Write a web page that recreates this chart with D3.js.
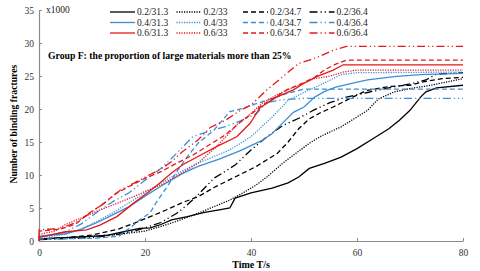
<!DOCTYPE html>
<html>
<head>
<meta charset="utf-8">
<script src="https://d3js.org/d3.v7.min.js"></script>
<style>
  body { margin: 0; background: #fff; }
  text { font-family: "Liberation Serif", "Times New Roman", serif; }
</style>
</head>
<body>
<svg id="chart"></svg>
<script>
// series labels, in legend order (row = ratio, column = value)
var names = ["0.2/31.3", "0.2/33", "0.2/34.7", "0.2/36.4",
             "0.4/31.3", "0.4/33", "0.4/34.7", "0.4/36.4",
             "0.6/31.3", "0.6/33", "0.6/34.7", "0.6/36.4"];

// [time s, binding fractures x1000]
var b_313 = [[0,0.3],[5,0.5],[10,0.7],[13,0.9],[16,1.4],[19,1.9],[21,2.0],[23,2.5],[25,3.2],[28,3.7],[31,4.3],[34,4.7],[36,5.0],[37,6.5],[40,7.3],[44,8.0],[47,8.8],[49,9.7],[51,11.0],[54,11.8],[57,12.7],[60,14.0],[63,15.5],[66,17.0],[68,18.3],[70,19.8],[72,21.8],[73,22.6],[75,23.2],[80,23.6]];
var b_33 = [[0,0.3],[5,0.5],[10,0.7],[15,1.0],[20,1.5],[23,2.2],[26,3.0],[30,4.2],[33,5.2],[36,6.2],[38.5,7.3],[41,8.5],[43,9.7],[46,11.8],[49,13.6],[51,14.8],[53,15.8],[57,17.3],[59,18.3],[62,19.8],[64,21.5],[67,22.6],[70,23.1],[74,23.6],[77,24.1],[80,24.6]];
var b_347 = [[0,0.3],[5,0.5],[10,0.9],[15,1.8],[18,2.7],[21,3.7],[24,4.7],[27,5.8],[30,6.7],[33,8.1],[37,9.7],[41,11.3],[45,13.3],[47,15.0],[49,17.0],[51,18.5],[53,19.4],[55.5,20.3],[58.7,21.6],[61.8,22.8],[66,23.4],[70,23.6],[73,24.2],[76,24.6],[80,24.8]];
var b_364 = [[0,0.2],[10,0.5],[15,1.0],[18,1.5],[20,2.0],[23,2.8],[26,4.2],[28,5.5],[30,7.0],[33,9.5],[37,11.5],[40,13.8],[43,15.8],[46,17.5],[49,18.6],[52,19.9],[55,21.0],[58,21.8],[62,22.5],[66,23.2],[70,23.8],[73,24.4],[75,25.3],[80,25.5]];
var u_313 = [[0,0.7],[5,1.1],[8,1.8],[11,2.8],[14,4.0],[17,5.2],[20,6.8],[23,8.3],[27,10.2],[30,11.3],[34,12.4],[38,13.7],[42,15.2],[44,16.3],[46,17.9],[48,19.5],[50,20.3],[52,21.8],[54,22.7],[56,23.3],[59,23.9],[62,24.4],[67,24.9],[72,25.2],[80,25.4]];
var u_33 = [[0,0.5],[5,1.0],[8,1.8],[11,3.0],[14,4.3],[17,5.8],[20,7.3],[23,8.8],[27,10.6],[30,11.8],[33,12.8],[36,13.8],[40,15.8],[44,18.8],[47,21.3],[51,22.9],[54,24.0],[57,25.2],[60,25.5],[80,25.6]];
var u_347 = [[0,0.3],[10,0.4],[15,0.7],[17.5,2.2],[19,3.2],[21,4.3],[22,5.7],[24,8.0],[26,10.5],[28,12.8],[30,14.8],[33,16.8],[36,19.6],[38,20.0],[41,20.8],[44,21.6],[47,22.4],[50,23.0],[80,23.0]];
var u_364 = [[0,0.6],[5,1.4],[8,2.6],[11,4.4],[14,6.0],[17,7.3],[20,9.2],[23,11.0],[25,12.5],[27.2,14.3],[29,15.8],[32,16.6],[35,17.3],[38,18.2],[41,19.3],[43,21.0],[46,21.4],[50,21.6],[80,21.6]];
var r_313 = [[0,0.6],[5.2,1.4],[9,1.7],[11.5,2.4],[14.7,3.7],[17.8,5.7],[20.3,7.2],[22.8,8.8],[25,10.3],[27.2,11.6],[30,12.8],[33.5,14.3],[37.3,15.8],[39.8,17.8],[41.7,20.2],[44.8,21.8],[48,22.9],[50,23.9],[52.4,24.9],[55.5,25.9],[57.4,26.7],[80,26.7]];
var r_33 = [[0,1.0],[3,1.5],[5,2.5],[8,3.5],[11.5,4.7],[14.7,5.7],[17.8,6.7],[20,7.5],[23,8.5],[27,10.3],[30,11.8],[33.5,14.3],[35.5,16.0],[37.3,17.6],[39.8,19.2],[42.3,21.0],[46,22.6],[49,23.6],[52,24.6],[55,25.0],[57.4,25.6],[60,25.9],[80,25.9]];
var r_347 = [[0,0],[0,1.5],[4,1.8],[7,2.6],[9.4,4.2],[11.9,5.5],[14.5,7.2],[17.6,8.5],[20,9.5],[23,10.5],[26,11.8],[29,13.0],[32,14.5],[35,16.0],[38,18.0],[40,19.2],[42,20.5],[44,21.5],[47,23.0],[50,24.0],[52,24.8],[54,26.0],[56,26.8],[58,27.4],[80,27.4]];
var r_364 = [[0,0],[0,1.7],[4,1.9],[7,2.8],[9.6,4.2],[12.8,6.0],[15.3,7.7],[18,8.8],[20.3,9.8],[22.8,10.8],[25,12.0],[27,13.5],[30,15.3],[32.3,17.2],[35,18.2],[38,19.8],[40,20.6],[43,22.9],[46,24.9],[49,26.9],[51,27.4],[53,28.0],[55.5,28.9],[58,29.5],[80,29.5]];

var xTicks = [0, 20, 40, 60, 80];
var yTicks = [0, 5, 10, 15, 20, 25, 30, 35];

var series_data = [b_313, b_33, b_347, b_364, u_313, u_33, u_347, u_364, r_313, r_33, r_347, r_364];

var colors = {b: "#000000", u: "#3a8fd8", r: "#e3191c"};
var dashes = ["none", "1.2,1.3", "5,3", "8,3,1.2,3,1.2,3"];

var width = 480, height = 271;
var margin = {top: 10, right: 17, bottom: 30, left: 39};

var svg = d3.select("#chart")
    .attr("width", width)
    .attr("height", height);

var x = d3.scaleLinear().domain([0, 80]).range([margin.left, width - margin.right]);
var y = d3.scaleLinear().domain([0, 35]).range([height - margin.bottom, margin.top]);

// axes
var xAxis = svg.append("g")
    .attr("transform", `translate(0, ${y(0)})`)
    .call(d3.axisBottom(x).tickValues(xTicks).tickSizeInner(-3).tickSizeOuter(0).tickPadding(8));
var yAxis = svg.append("g")
    .attr("transform", `translate(${x(0)}, 0)`)
    .call(d3.axisLeft(y).tickValues(yTicks).tickSizeInner(-3).tickSizeOuter(0).tickPadding(5));

[xAxis, yAxis].forEach(function(g){
    g.select(".domain").attr("stroke", "#8c8c8c").attr("stroke-width", 1.2);
    g.selectAll(".tick line").attr("stroke", "#8c8c8c");
    g.selectAll(".tick text")
        .attr("font-family", "Liberation Serif")
        .attr("font-size", 9.5)
        .attr("fill", "#333");
});

// lines
var line = d3.line()
    .x(function(d){ return x(d[0]); })
    .y(function(d){ return y(d[1]); });

series_data.forEach(function(d, i){
    var c = colors["bur"[Math.floor(i / 4)]];
    svg.append("path")
        .attr("d", line(d))
        .attr("fill", "none")
        .attr("stroke", c)
        .attr("stroke-width", 1.3)
        .attr("stroke-dasharray", dashes[i % 4]);
});

// legend
var lg = svg.append("g");
names.forEach(function(n, i){
    var col = i % 4, row = Math.floor(i / 4);
    var lx = 110 + col * 66.5, ly = 12 + row * 10.5;
    lg.append("line")
        .attr("x1", lx).attr("x2", lx + 25)
        .attr("y1", ly).attr("y2", ly)
        .attr("stroke", colors["bur"[row]])
        .attr("stroke-width", 1.3)
        .attr("stroke-dasharray", dashes[col]);
    lg.append("text")
        .attr("x", lx + 27).attr("y", ly + 3.3)
        .attr("font-size", 9.5)
        .attr("fill", "#222")
        .text(n);
});

// labels
svg.append("text")
    .attr("x", 46).attr("y", 12.5)
    .attr("font-size", 9.5)
    .attr("fill", "#222")
    .text("x1000");

svg.append("text")
    .attr("x", 48).attr("y", 59)
    .attr("font-size", 9.7)
    .attr("font-weight", "bold")
    .text("Group F: the proportion of large materials more than 25%");

svg.append("text")
    .attr("x", (x(0) + x(80)) / 2).attr("y", 268)
    .attr("text-anchor", "middle")
    .attr("font-size", 10)
    .attr("font-weight", "bold")
    .text("Time T/s");

svg.append("text")
    .attr("transform", `translate(17, ${y(17.7)}) rotate(-90)`)
    .attr("text-anchor", "middle")
    .attr("font-size", 9.7)
    .attr("font-weight", "bold")
    .text("Number of binding fractures");
</script>
</body>
</html>
